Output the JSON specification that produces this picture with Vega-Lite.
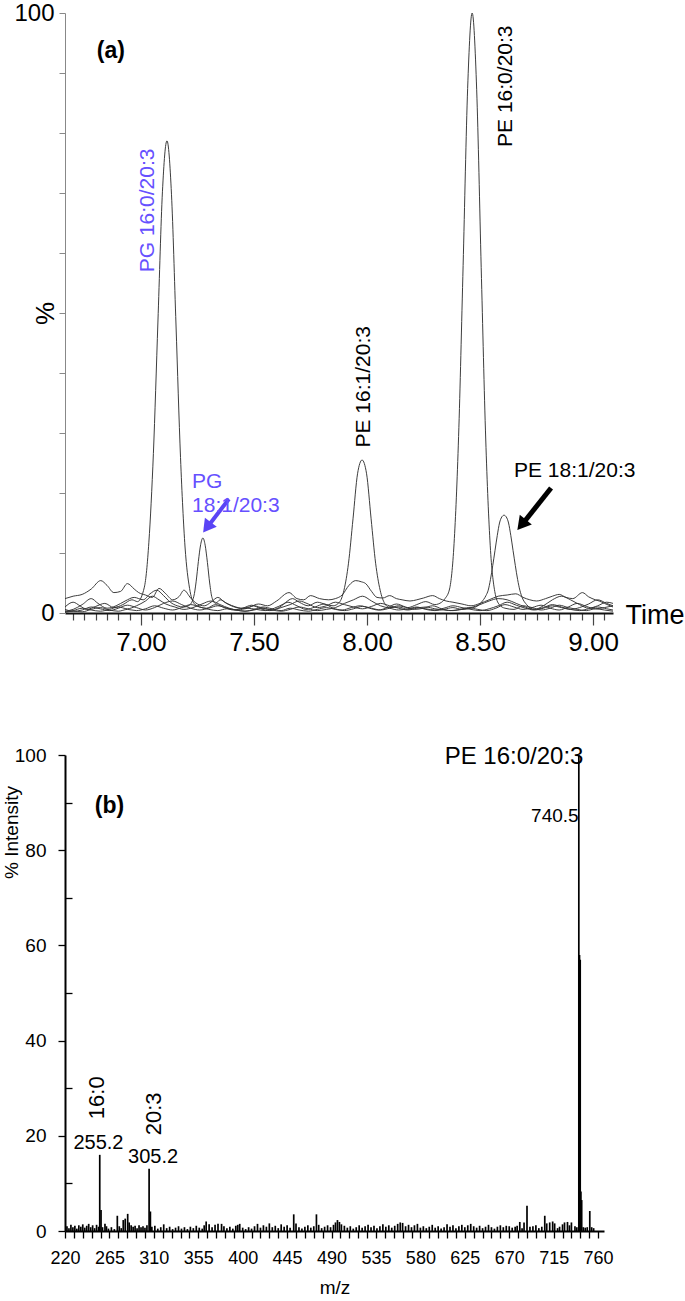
{
"$schema": "https://vega.github.io/schema/vega-lite/v6.json",
"padding": {"left": 2, "top": 1, "right": 0, "bottom": 0},
"config": {"view": {"stroke": null}, "font": "Liberation Sans", "axis": {"grid": false, "labelColor": "#000", "titleColor": "#000", "labelFont": "Liberation Sans", "titleFont": "Liberation Sans", "titleFontWeight": "normal"}},
"datasets": {
"traces": [
{"s":"A","t":6.664,"v":1.0},{"s":"A","t":6.70,"v":1.8},{"s":"A","t":6.73,"v":1.2},{"s":"A","t":6.76,"v":0.6},{"s":"A","t":6.80,"v":1.1},{"s":"A","t":6.84,"v":1.6},{"s":"A","t":6.88,"v":0.9},{"s":"A","t":6.92,"v":1.4},{"s":"A","t":6.96,"v":2.2},{"s":"A","t":6.985,"v":1.9},{"s":"A","t":7.015,"v":4.3},{"s":"A","t":7.035,"v":11.8},{"s":"A","t":7.055,"v":26.6},{"s":"A","t":7.075,"v":48.5},{"s":"A","t":7.095,"v":70.2},{"s":"A","t":7.115,"v":78.7},{"s":"A","t":7.135,"v":69.8},{"s":"A","t":7.155,"v":48.0},{"s":"A","t":7.175,"v":25.9},{"s":"A","t":7.195,"v":11.0},{"s":"A","t":7.215,"v":4.1},{"s":"A","t":7.235,"v":1.6},{"s":"A","t":7.26,"v":1.0},{"s":"A","t":7.29,"v":0.8},{"s":"A","t":7.33,"v":1.4},{"s":"A","t":7.37,"v":0.9},{"s":"A","t":7.41,"v":0.5},{"s":"A","t":7.45,"v":0.8},{"s":"A","t":7.49,"v":1.3},{"s":"A","t":7.53,"v":0.7},{"s":"A","t":7.57,"v":0.4},{"s":"A","t":7.61,"v":0.9},{"s":"A","t":7.65,"v":1.8},{"s":"A","t":7.69,"v":1.2},{"s":"A","t":7.73,"v":0.6},{"s":"A","t":7.77,"v":1.0},{"s":"A","t":7.81,"v":1.5},{"s":"A","t":7.85,"v":0.8},{"s":"A","t":7.89,"v":0.5},{"s":"A","t":7.93,"v":0.9},{"s":"A","t":7.97,"v":1.2},{"s":"A","t":8.01,"v":0.8},{"s":"A","t":8.05,"v":0.5},{"s":"A","t":8.09,"v":0.9},{"s":"A","t":8.13,"v":1.5},{"s":"A","t":8.17,"v":1.0},{"s":"A","t":8.21,"v":0.6},{"s":"A","t":8.25,"v":0.8},{"s":"A","t":8.29,"v":1.2},{"s":"A","t":8.33,"v":0.7},{"s":"A","t":8.37,"v":0.4},{"s":"A","t":8.41,"v":0.6},{"s":"A","t":8.45,"v":0.9},{"s":"A","t":8.49,"v":0.6},{"s":"A","t":8.53,"v":0.4},{"s":"A","t":8.57,"v":0.8},{"s":"A","t":8.61,"v":1.4},{"s":"A","t":8.65,"v":1.0},{"s":"A","t":8.69,"v":0.6},{"s":"A","t":8.73,"v":0.9},{"s":"A","t":8.77,"v":1.3},{"s":"A","t":8.81,"v":0.8},{"s":"A","t":8.85,"v":0.5},{"s":"A","t":8.89,"v":1.0},{"s":"A","t":8.93,"v":1.6},{"s":"A","t":8.97,"v":1.1},{"s":"A","t":9.01,"v":0.7},{"s":"A","t":9.05,"v":0.9},{"s":"A","t":9.088,"v":1.2},
{"s":"B","t":6.664,"v":0.3},{"s":"B","t":6.70,"v":0.6},{"s":"B","t":6.74,"v":1.4},{"s":"B","t":6.78,"v":2.4},{"s":"B","t":6.81,"v":1.6},{"s":"B","t":6.85,"v":0.8},{"s":"B","t":6.89,"v":1.2},{"s":"B","t":6.93,"v":2.0},{"s":"B","t":6.97,"v":2.6},{"s":"B","t":7.01,"v":2.2},{"s":"B","t":7.04,"v":3.2},{"s":"B","t":7.07,"v":3.8},{"s":"B","t":7.10,"v":2.9},{"s":"B","t":7.13,"v":1.8},{"s":"B","t":7.16,"v":1.2},{"s":"B","t":7.19,"v":1.0},{"s":"B","t":7.214,"v":1.3},{"s":"B","t":7.234,"v":2.8},{"s":"B","t":7.244,"v":5.2},{"s":"B","t":7.254,"v":8.6},{"s":"B","t":7.264,"v":11.4},{"s":"B","t":7.274,"v":12.5},{"s":"B","t":7.284,"v":11.3},{"s":"B","t":7.294,"v":8.4},{"s":"B","t":7.304,"v":5.0},{"s":"B","t":7.314,"v":2.6},{"s":"B","t":7.33,"v":1.6},{"s":"B","t":7.35,"v":2.2},{"s":"B","t":7.38,"v":1.6},{"s":"B","t":7.42,"v":1.0},{"s":"B","t":7.46,"v":0.7},{"s":"B","t":7.50,"v":1.2},{"s":"B","t":7.54,"v":0.8},{"s":"B","t":7.58,"v":0.5},{"s":"B","t":7.62,"v":0.9},{"s":"B","t":7.66,"v":1.4},{"s":"B","t":7.70,"v":2.0},{"s":"B","t":7.74,"v":1.5},{"s":"B","t":7.78,"v":0.9},{"s":"B","t":7.82,"v":1.2},{"s":"B","t":7.86,"v":1.8},{"s":"B","t":7.90,"v":1.4},{"s":"B","t":7.94,"v":1.0},{"s":"B","t":7.98,"v":0.7},{"s":"B","t":8.02,"v":1.1},{"s":"B","t":8.06,"v":1.6},{"s":"B","t":8.10,"v":1.2},{"s":"B","t":8.14,"v":0.8},{"s":"B","t":8.18,"v":0.5},{"s":"B","t":8.22,"v":0.8},{"s":"B","t":8.26,"v":1.0},{"s":"B","t":8.30,"v":0.7},{"s":"B","t":8.34,"v":0.5},{"s":"B","t":8.38,"v":0.4},{"s":"B","t":8.42,"v":0.6},{"s":"B","t":8.46,"v":0.9},{"s":"B","t":8.50,"v":1.4},{"s":"B","t":8.54,"v":2.0},{"s":"B","t":8.58,"v":2.4},{"s":"B","t":8.62,"v":2.2},{"s":"B","t":8.66,"v":1.6},{"s":"B","t":8.70,"v":1.0},{"s":"B","t":8.74,"v":0.6},{"s":"B","t":8.78,"v":1.2},{"s":"B","t":8.82,"v":2.2},{"s":"B","t":8.86,"v":2.8},{"s":"B","t":8.90,"v":2.2},{"s":"B","t":8.94,"v":1.4},{"s":"B","t":8.98,"v":0.8},{"s":"B","t":9.02,"v":1.2},{"s":"B","t":9.06,"v":1.8},{"s":"B","t":9.088,"v":1.6},
{"s":"C","t":6.664,"v":0.2},{"s":"C","t":6.70,"v":0.4},{"s":"C","t":6.74,"v":0.8},{"s":"C","t":6.78,"v":0.5},{"s":"C","t":6.82,"v":0.3},{"s":"C","t":6.86,"v":0.6},{"s":"C","t":6.90,"v":1.0},{"s":"C","t":6.94,"v":0.7},{"s":"C","t":6.98,"v":1.2},{"s":"C","t":7.02,"v":2.0},{"s":"C","t":7.05,"v":2.8},{"s":"C","t":7.08,"v":2.2},{"s":"C","t":7.11,"v":1.5},{"s":"C","t":7.15,"v":1.0},{"s":"C","t":7.19,"v":0.6},{"s":"C","t":7.23,"v":0.9},{"s":"C","t":7.27,"v":1.5},{"s":"C","t":7.31,"v":2.0},{"s":"C","t":7.35,"v":1.4},{"s":"C","t":7.39,"v":0.8},{"s":"C","t":7.43,"v":0.5},{"s":"C","t":7.47,"v":0.8},{"s":"C","t":7.51,"v":0.6},{"s":"C","t":7.55,"v":0.4},{"s":"C","t":7.59,"v":0.8},{"s":"C","t":7.63,"v":1.5},{"s":"C","t":7.67,"v":2.4},{"s":"C","t":7.70,"v":1.8},{"s":"C","t":7.74,"v":1.2},{"s":"C","t":7.78,"v":1.8},{"s":"C","t":7.82,"v":1.4},{"s":"C","t":7.85,"v":1.2},{"s":"C","t":7.878,"v":1.8},{"s":"C","t":7.898,"v":3.8},{"s":"C","t":7.918,"v":8.3},{"s":"C","t":7.938,"v":15.7},{"s":"C","t":7.958,"v":23.2},{"s":"C","t":7.978,"v":25.5},{"s":"C","t":7.998,"v":23.2},{"s":"C","t":8.018,"v":15.7},{"s":"C","t":8.038,"v":8.3},{"s":"C","t":8.058,"v":3.8},{"s":"C","t":8.078,"v":1.6},{"s":"C","t":8.10,"v":0.9},{"s":"C","t":8.14,"v":1.0},{"s":"C","t":8.18,"v":0.6},{"s":"C","t":8.22,"v":0.9},{"s":"C","t":8.26,"v":0.7},{"s":"C","t":8.30,"v":0.5},{"s":"C","t":8.34,"v":0.8},{"s":"C","t":8.38,"v":1.2},{"s":"C","t":8.42,"v":0.9},{"s":"C","t":8.46,"v":0.6},{"s":"C","t":8.50,"v":0.4},{"s":"C","t":8.54,"v":0.7},{"s":"C","t":8.58,"v":1.2},{"s":"C","t":8.62,"v":1.8},{"s":"C","t":8.66,"v":1.3},{"s":"C","t":8.70,"v":0.8},{"s":"C","t":8.74,"v":0.5},{"s":"C","t":8.78,"v":0.8},{"s":"C","t":8.82,"v":1.2},{"s":"C","t":8.86,"v":0.9},{"s":"C","t":8.90,"v":0.6},{"s":"C","t":8.94,"v":0.9},{"s":"C","t":8.98,"v":1.5},{"s":"C","t":9.02,"v":2.2},{"s":"C","t":9.06,"v":1.6},{"s":"C","t":9.088,"v":1.2},
{"s":"D","t":6.664,"v":0.1},{"s":"D","t":6.70,"v":0.3},{"s":"D","t":6.74,"v":0.2},{"s":"D","t":6.78,"v":0.6},{"s":"D","t":6.82,"v":0.9},{"s":"D","t":6.86,"v":0.5},{"s":"D","t":6.90,"v":0.3},{"s":"D","t":6.94,"v":0.6},{"s":"D","t":6.98,"v":0.4},{"s":"D","t":7.02,"v":0.7},{"s":"D","t":7.06,"v":1.2},{"s":"D","t":7.10,"v":0.8},{"s":"D","t":7.14,"v":0.5},{"s":"D","t":7.18,"v":0.9},{"s":"D","t":7.22,"v":1.4},{"s":"D","t":7.26,"v":1.0},{"s":"D","t":7.30,"v":0.6},{"s":"D","t":7.34,"v":0.4},{"s":"D","t":7.38,"v":0.7},{"s":"D","t":7.42,"v":0.5},{"s":"D","t":7.46,"v":0.3},{"s":"D","t":7.50,"v":0.6},{"s":"D","t":7.54,"v":1.0},{"s":"D","t":7.58,"v":0.7},{"s":"D","t":7.62,"v":0.4},{"s":"D","t":7.66,"v":0.8},{"s":"D","t":7.70,"v":0.5},{"s":"D","t":7.74,"v":0.3},{"s":"D","t":7.78,"v":0.6},{"s":"D","t":7.82,"v":0.9},{"s":"D","t":7.86,"v":0.6},{"s":"D","t":7.90,"v":0.4},{"s":"D","t":7.94,"v":0.7},{"s":"D","t":7.98,"v":1.1},{"s":"D","t":8.02,"v":0.8},{"s":"D","t":8.06,"v":0.5},{"s":"D","t":8.10,"v":0.8},{"s":"D","t":8.14,"v":1.2},{"s":"D","t":8.18,"v":0.9},{"s":"D","t":8.22,"v":1.4},{"s":"D","t":8.26,"v":1.9},{"s":"D","t":8.30,"v":1.4},{"s":"D","t":8.33,"v":1.8},{"s":"D","t":8.345,"v":2.4},{"s":"D","t":8.365,"v":4.0},{"s":"D","t":8.385,"v":11.6},{"s":"D","t":8.405,"v":29.4},{"s":"D","t":8.425,"v":57.9},{"s":"D","t":8.445,"v":87.4},{"s":"D","t":8.465,"v":100},{"s":"D","t":8.485,"v":87.2},{"s":"D","t":8.505,"v":57.6},{"s":"D","t":8.525,"v":29.0},{"s":"D","t":8.545,"v":11.2},{"s":"D","t":8.565,"v":3.6},{"s":"D","t":8.585,"v":1.4},{"s":"D","t":8.61,"v":0.8},{"s":"D","t":8.65,"v":0.6},{"s":"D","t":8.69,"v":1.2},{"s":"D","t":8.73,"v":0.9},{"s":"D","t":8.77,"v":0.5},{"s":"D","t":8.81,"v":0.8},{"s":"D","t":8.85,"v":1.3},{"s":"D","t":8.89,"v":0.9},{"s":"D","t":8.93,"v":0.6},{"s":"D","t":8.97,"v":0.4},{"s":"D","t":9.01,"v":0.7},{"s":"D","t":9.05,"v":0.5},{"s":"D","t":9.088,"v":0.3},
{"s":"E","t":6.664,"v":0.6},{"s":"E","t":6.70,"v":0.3},{"s":"E","t":6.74,"v":0.5},{"s":"E","t":6.78,"v":1.0},{"s":"E","t":6.82,"v":0.7},{"s":"E","t":6.86,"v":0.4},{"s":"E","t":6.90,"v":0.8},{"s":"E","t":6.94,"v":1.3},{"s":"E","t":6.98,"v":0.9},{"s":"E","t":7.02,"v":0.5},{"s":"E","t":7.06,"v":0.9},{"s":"E","t":7.10,"v":1.6},{"s":"E","t":7.14,"v":2.0},{"s":"E","t":7.18,"v":1.4},{"s":"E","t":7.22,"v":0.8},{"s":"E","t":7.26,"v":0.5},{"s":"E","t":7.30,"v":0.8},{"s":"E","t":7.34,"v":1.2},{"s":"E","t":7.38,"v":0.8},{"s":"E","t":7.42,"v":0.5},{"s":"E","t":7.46,"v":0.3},{"s":"E","t":7.50,"v":0.5},{"s":"E","t":7.54,"v":0.8},{"s":"E","t":7.58,"v":0.5},{"s":"E","t":7.62,"v":0.3},{"s":"E","t":7.66,"v":0.6},{"s":"E","t":7.70,"v":1.0},{"s":"E","t":7.74,"v":0.7},{"s":"E","t":7.78,"v":0.4},{"s":"E","t":7.82,"v":0.6},{"s":"E","t":7.86,"v":0.9},{"s":"E","t":7.90,"v":1.6},{"s":"E","t":7.94,"v":2.2},{"s":"E","t":7.98,"v":2.8},{"s":"E","t":8.02,"v":2.0},{"s":"E","t":8.06,"v":1.2},{"s":"E","t":8.10,"v":0.8},{"s":"E","t":8.14,"v":0.5},{"s":"E","t":8.18,"v":0.7},{"s":"E","t":8.22,"v":1.0},{"s":"E","t":8.26,"v":0.6},{"s":"E","t":8.30,"v":0.4},{"s":"E","t":8.34,"v":0.6},{"s":"E","t":8.38,"v":0.9},{"s":"E","t":8.42,"v":0.6},{"s":"E","t":8.46,"v":0.8},{"s":"E","t":8.49,"v":1.2},{"s":"E","t":8.506,"v":1.8},{"s":"E","t":8.526,"v":2.9},{"s":"E","t":8.536,"v":3.8},{"s":"E","t":8.546,"v":5.6},{"s":"E","t":8.556,"v":7.9},{"s":"E","t":8.566,"v":10.4},{"s":"E","t":8.576,"v":12.9},{"s":"E","t":8.586,"v":15.0},{"s":"E","t":8.596,"v":16.0},{"s":"E","t":8.606,"v":16.3},{"s":"E","t":8.616,"v":16.0},{"s":"E","t":8.626,"v":15.0},{"s":"E","t":8.636,"v":12.9},{"s":"E","t":8.646,"v":10.4},{"s":"E","t":8.656,"v":7.9},{"s":"E","t":8.666,"v":5.6},{"s":"E","t":8.676,"v":3.8},{"s":"E","t":8.686,"v":2.6},{"s":"E","t":8.706,"v":1.4},{"s":"E","t":8.74,"v":0.6},{"s":"E","t":8.78,"v":0.9},{"s":"E","t":8.82,"v":1.4},{"s":"E","t":8.86,"v":1.0},{"s":"E","t":8.90,"v":0.6},{"s":"E","t":8.94,"v":0.4},{"s":"E","t":8.98,"v":0.7},{"s":"E","t":9.02,"v":1.0},{"s":"E","t":9.06,"v":0.7},{"s":"E","t":9.088,"v":0.5},
{"s":"F","t":6.664,"v":2.4},{"s":"F","t":6.70,"v":2.8},{"s":"F","t":6.74,"v":3.1},{"s":"F","t":6.78,"v":4.0},{"s":"F","t":6.822,"v":5.4},{"s":"F","t":6.85,"v":4.6},{"s":"F","t":6.88,"v":3.4},{"s":"F","t":6.91,"v":3.6},{"s":"F","t":6.94,"v":4.9},{"s":"F","t":6.97,"v":4.0},{"s":"F","t":6.99,"v":3.4},{"s":"F","t":7.02,"v":3.0},{"s":"F","t":7.05,"v":2.6},{"s":"F","t":7.08,"v":4.1},{"s":"F","t":7.11,"v":3.2},{"s":"F","t":7.14,"v":2.2},{"s":"F","t":7.17,"v":2.8},{"s":"F","t":7.19,"v":3.8},{"s":"F","t":7.22,"v":2.5},{"s":"F","t":7.25,"v":1.5},{"s":"F","t":7.28,"v":1.2},{"s":"F","t":7.31,"v":1.8},{"s":"F","t":7.34,"v":2.6},{"s":"F","t":7.37,"v":1.8},{"s":"F","t":7.40,"v":1.2},{"s":"F","t":7.44,"v":0.8},{"s":"F","t":7.48,"v":1.0},{"s":"F","t":7.52,"v":1.5},{"s":"F","t":7.56,"v":1.2},{"s":"F","t":7.60,"v":2.0},{"s":"F","t":7.655,"v":3.4},{"s":"F","t":7.69,"v":2.4},{"s":"F","t":7.72,"v":2.2},{"s":"F","t":7.75,"v":2.9},{"s":"F","t":7.79,"v":2.4},{"s":"F","t":7.83,"v":2.2},{"s":"F","t":7.86,"v":2.4},{"s":"F","t":7.89,"v":3.0},{"s":"F","t":7.92,"v":4.6},{"s":"F","t":7.95,"v":5.4},{"s":"F","t":7.975,"v":5.2},{"s":"F","t":7.994,"v":4.9},{"s":"F","t":8.02,"v":3.6},{"s":"F","t":8.044,"v":2.6},{"s":"F","t":8.07,"v":2.5},{"s":"F","t":8.10,"v":2.9},{"s":"F","t":8.13,"v":2.4},{"s":"F","t":8.155,"v":2.2},{"s":"F","t":8.19,"v":2.0},{"s":"F","t":8.22,"v":2.2},{"s":"F","t":8.25,"v":2.5},{"s":"F","t":8.29,"v":2.9},{"s":"F","t":8.32,"v":2.4},{"s":"F","t":8.35,"v":2.0},{"s":"F","t":8.38,"v":1.8},{"s":"F","t":8.42,"v":1.5},{"s":"F","t":8.46,"v":1.2},{"s":"F","t":8.50,"v":1.6},{"s":"F","t":8.54,"v":2.2},{"s":"F","t":8.58,"v":2.8},{"s":"F","t":8.62,"v":3.0},{"s":"F","t":8.658,"v":3.2},{"s":"F","t":8.69,"v":2.6},{"s":"F","t":8.72,"v":2.2},{"s":"F","t":8.75,"v":2.0},{"s":"F","t":8.79,"v":2.4},{"s":"F","t":8.82,"v":2.8},{"s":"F","t":8.85,"v":3.1},{"s":"F","t":8.88,"v":2.6},{"s":"F","t":8.91,"v":2.4},{"s":"F","t":8.953,"v":3.4},{"s":"F","t":8.98,"v":2.7},{"s":"F","t":9.01,"v":2.2},{"s":"F","t":9.027,"v":2.0},{"s":"F","t":9.05,"v":1.6},{"s":"F","t":9.088,"v":1.0}
],
"spec": [
{"mz":222,"i":1.0},{"mz":224,"i":0.6},{"mz":226,"i":1.3},{"mz":228,"i":0.8},{"mz":230,"i":1.1},{"mz":232,"i":0.5},{"mz":234,"i":1.2},{"mz":236,"i":0.9},{"mz":238,"i":1.4},{"mz":240,"i":0.7},{"mz":242,"i":1.1},{"mz":244,"i":1.5},{"mz":246,"i":0.8},{"mz":248,"i":1.2},{"mz":250,"i":0.6},{"mz":252,"i":1.3},{"mz":254,"i":0.9},{"mz":255.2,"i":16.0},{"mz":256.5,"i":4.4},{"mz":258,"i":0.8},{"mz":260.5,"i":1.5},{"mz":262,"i":1.0},{"mz":264,"i":0.5},{"mz":267,"i":0.8},{"mz":270,"i":0.4},{"mz":273,"i":3.2},{"mz":275,"i":1.0},{"mz":277,"i":0.6},{"mz":279,"i":2.3},{"mz":281,"i":2.6},{"mz":283.5,"i":3.6},{"mz":285,"i":1.8},{"mz":287,"i":1.2},{"mz":289,"i":0.9},{"mz":291,"i":1.1},{"mz":293,"i":0.6},{"mz":295,"i":1.2},{"mz":297,"i":0.8},{"mz":299,"i":1.0},{"mz":301,"i":0.7},{"mz":303,"i":1.2},{"mz":305.2,"i":13.1},{"mz":306.5,"i":4.1},{"mz":308,"i":0.9},{"mz":311,"i":1.1},{"mz":314,"i":0.5},{"mz":317,"i":0.8},{"mz":320,"i":1.4},{"mz":323,"i":0.6},{"mz":326,"i":0.9},{"mz":329,"i":0.4},{"mz":332,"i":0.7},{"mz":335,"i":1.0},{"mz":338,"i":0.5},{"mz":341,"i":0.8},{"mz":344,"i":0.4},{"mz":347,"i":0.9},{"mz":350,"i":0.6},{"mz":353,"i":1.1},{"mz":356,"i":0.7},{"mz":359,"i":0.5},{"mz":361,"i":1.2},{"mz":363,"i":2.0},{"mz":366,"i":1.4},{"mz":369,"i":0.8},{"mz":372,"i":1.3},{"mz":375,"i":1.5},{"mz":378.6,"i":1.5},{"mz":381,"i":1.0},{"mz":384,"i":0.6},{"mz":387,"i":0.9},{"mz":390,"i":0.5},{"mz":393,"i":1.1},{"mz":395,"i":1.3},{"mz":397,"i":1.5},{"mz":400,"i":0.7},{"mz":403,"i":0.4},{"mz":406,"i":0.8},{"mz":409,"i":0.5},{"mz":412,"i":1.0},{"mz":415,"i":1.5},{"mz":418,"i":0.7},{"mz":421,"i":1.2},{"mz":424,"i":0.9},{"mz":427,"i":1.6},{"mz":430,"i":0.8},{"mz":433,"i":1.1},{"mz":436,"i":0.6},{"mz":439,"i":1.4},{"mz":442,"i":0.9},{"mz":445,"i":1.2},{"mz":448,"i":0.7},{"mz":451.7,"i":3.5},{"mz":454,"i":1.6},{"mz":457,"i":0.8},{"mz":460,"i":0.5},{"mz":463,"i":0.9},{"mz":466,"i":1.2},{"mz":469,"i":0.7},{"mz":472,"i":1.0},{"mz":474.7,"i":3.5},{"mz":477,"i":1.3},{"mz":480,"i":0.6},{"mz":483,"i":0.9},{"mz":486,"i":1.2},{"mz":489,"i":0.8},{"mz":492,"i":1.3},{"mz":494,"i":1.8},{"mz":496,"i":2.3},{"mz":498,"i":1.9},{"mz":500,"i":1.4},{"mz":503,"i":1.1},{"mz":506,"i":0.7},{"mz":509,"i":1.0},{"mz":512,"i":0.5},{"mz":515,"i":0.8},{"mz":518,"i":1.2},{"mz":521,"i":0.7},{"mz":524,"i":1.0},{"mz":527,"i":1.3},{"mz":530,"i":0.8},{"mz":533,"i":1.1},{"mz":536,"i":0.6},{"mz":539,"i":1.0},{"mz":542,"i":1.4},{"mz":545,"i":0.9},{"mz":548,"i":1.2},{"mz":551,"i":0.7},{"mz":554,"i":1.1},{"mz":557,"i":1.5},{"mz":559.6,"i":1.8},{"mz":562,"i":1.7},{"mz":565,"i":1.0},{"mz":568,"i":1.3},{"mz":571,"i":0.8},{"mz":574,"i":1.2},{"mz":577,"i":1.5},{"mz":580,"i":0.7},{"mz":583,"i":1.0},{"mz":586,"i":0.6},{"mz":589,"i":0.9},{"mz":592,"i":1.3},{"mz":595,"i":0.7},{"mz":598,"i":1.0},{"mz":601,"i":0.5},{"mz":604,"i":0.8},{"mz":607,"i":1.4},{"mz":610,"i":0.9},{"mz":613,"i":1.2},{"mz":616,"i":0.6},{"mz":619,"i":1.0},{"mz":622,"i":1.3},{"mz":625,"i":0.8},{"mz":628,"i":1.2},{"mz":631,"i":1.5},{"mz":634,"i":1.0},{"mz":637,"i":0.7},{"mz":640,"i":1.1},{"mz":643,"i":0.6},{"mz":646,"i":0.9},{"mz":649,"i":1.3},{"mz":652,"i":0.8},{"mz":655,"i":0.5},{"mz":658,"i":0.9},{"mz":661,"i":1.2},{"mz":664,"i":0.8},{"mz":667,"i":1.1},{"mz":670,"i":1.0},{"mz":673,"i":0.7},{"mz":676,"i":0.9},{"mz":678,"i":1.1},{"mz":680.7,"i":1.9},{"mz":683,"i":0.6},{"mz":685,"i":1.8},{"mz":688,"i":5.3},{"mz":691,"i":0.9},{"mz":694,"i":1.0},{"mz":697,"i":1.2},{"mz":700,"i":0.6},{"mz":703,"i":0.9},{"mz":706,"i":3.2},{"mz":708,"i":1.6},{"mz":711,"i":1.8},{"mz":714,"i":2.0},{"mz":716,"i":1.6},{"mz":719,"i":0.6},{"mz":721,"i":0.9},{"mz":724,"i":1.4},{"mz":726,"i":1.8},{"mz":729,"i":1.9},{"mz":731,"i":1.2},{"mz":733,"i":1.8},{"mz":736.6,"i":1.0},{"mz":738.5,"i":0.8},{"mz":740.5,"i":100},{"mz":741.2,"i":58},{"mz":741.9,"i":57},{"mz":742.6,"i":8.3},{"mz":743.4,"i":6.5},{"mz":745,"i":0.8},{"mz":747,"i":0.7},{"mz":749,"i":0.8},{"mz":751.6,"i":4.2},{"mz":753.5,"i":0.8},{"mz":755.5,"i":0.6}
]
},
"spacing": 89,
"vconcat": [
{
"width": 548, "height": 600,
"resolve": {"axis": {"x": "independent", "y": "independent"}},
"layer": [
{"data": {"name": "traces"},
 "mark": {"type": "line", "interpolate": "monotone", "stroke": "#333", "strokeWidth": 0.95},
 "encoding": {
  "x": {"field": "t", "type": "quantitative", "scale": {"domain": [6.664, 9.088], "nice": false, "zero": false},
   "axis": {"orient": "bottom", "values": [6.7,6.75,6.8,6.85,6.9,6.95,7,7.05,7.1,7.15,7.2,7.25,7.3,7.35,7.4,7.45,7.5,7.55,7.6,7.65,7.7,7.75,7.8,7.85,7.9,7.95,8,8.05,8.1,8.15,8.2,8.25,8.3,8.35,8.4,8.45,8.5,8.55,8.6,8.65,8.7,8.75,8.8,8.85,8.9,8.95,9,9.05],
    "labelExpr": "abs(datum.value * 2 - round(datum.value * 2)) < 0.001 ? format(datum.value, '.2f') : ''",
    "tickSize": {"condition": {"test": "abs(datum.value * 2 - round(datum.value * 2)) < 0.001", "value": 12}, "value": 7},
    "ticks": true, "tickColor": "#444", "tickWidth": 1.2, "tickOpacity": 1, "domainColor": "#111", "domainWidth": 2, "labelFontSize": 26, "labelPadding": 4, "labelFlush": false, "labelOverlap": false, "labelBound": false,
    "title": "Time", "titleFontSize": 27, "titleX": 560, "titleY": 2, "titleAlign": "left", "titleBaseline": "middle", "titleAngle": 0}},
  "y": {"field": "v", "type": "quantitative", "scale": {"domain": [0, 100], "nice": false},
   "axis": {"orient": "left", "values": [0, 10, 20, 30, 40, 50, 60, 70, 80, 90, 100], "labelExpr": "datum.value == 0 || datum.value == 100 ? datum.label : ''", "tickSize": 6, "tickColor": "#888", "domainColor": "#888", "domainWidth": 1, "labelFontSize": 24, "labelPadding": 5, "labelOverlap": false, "labelFlush": false, "title": "%", "titleFontSize": 26, "titleX": -20, "titleY": 300, "titleAngle": 270, "titleAlign": "center", "titleBaseline": "middle"}},
  "detail": {"field": "s"}
 }},
{"data": {"values": [{"t": 7.389, "v": 19.0, "t2": 7.301, "v2": 14.67}]},
 "mark": {"type": "rule", "color": "#5a44f5", "strokeWidth": 4},
 "encoding": {"x": {"field": "t", "type": "quantitative", "axis": null}, "y": {"field": "v", "type": "quantitative", "axis": null}, "x2": {"field": "t2"}, "y2": {"field": "v2"}}},
{"data": {"values": [{"t": 7.292, "v": 14.27}]},
 "mark": {"type": "point", "shape": "triangle-up", "filled": true, "color": "#5a44f5", "size": 220, "angle": 217, "opacity": 1},
 "encoding": {"x": {"field": "t", "type": "quantitative", "axis": null}, "y": {"field": "v", "type": "quantitative", "axis": null}}},
{"data": {"values": [{"t": 8.814, "v": 20.83, "t2": 8.6947, "v2": 15.17}]},
 "mark": {"type": "rule", "color": "#000", "strokeWidth": 5},
 "encoding": {"x": {"field": "t", "type": "quantitative", "axis": null}, "y": {"field": "v", "type": "quantitative", "axis": null}, "x2": {"field": "t2"}, "y2": {"field": "v2"}}},
{"data": {"values": [{"t": 8.6836, "v": 14.7}]},
 "mark": {"type": "point", "shape": "triangle-up", "filled": true, "color": "#000", "size": 240, "angle": 219, "opacity": 1},
 "encoding": {"x": {"field": "t", "type": "quantitative", "axis": null}, "y": {"field": "v", "type": "quantitative", "axis": null}}},
{"data": {"values": [{"label": "(a)", "t": 6.867, "v": 93.7}]},
 "mark": {"type": "text", "fontSize": 23, "fontWeight": "bold", "color": "#000", "align": "center", "baseline": "middle"},
 "encoding": {"x": {"field": "t", "type": "quantitative", "axis": null}, "y": {"field": "v", "type": "quantitative", "axis": null}, "text": {"field": "label"}}},
{"data": {"values": [{"label": "PE 16:0/20:3", "t": 8.613, "v": 87.8}, {"label": "PE 16:1/20:3", "t": 7.987, "v": 37.7}]},
 "mark": {"type": "text", "fontSize": 21, "angle": 270, "color": "#000", "align": "center", "baseline": "middle"},
 "encoding": {"x": {"field": "t", "type": "quantitative", "axis": null}, "y": {"field": "v", "type": "quantitative", "axis": null}, "text": {"field": "label"}}},
{"data": {"values": [{"label": "PG 16:0/20:3", "t": 7.031, "v": 67.1}]},
 "mark": {"type": "text", "fontSize": 21, "angle": 270, "color": "#6650ff", "align": "center", "baseline": "middle"},
 "encoding": {"x": {"field": "t", "type": "quantitative", "axis": null}, "y": {"field": "v", "type": "quantitative", "axis": null}, "text": {"field": "label"}}},
{"data": {"values": [{"label": "PG", "t": 7.226, "v": 21.8}, {"label": "18:1/20:3", "t": 7.226, "v": 17.9}]},
 "mark": {"type": "text", "fontSize": 21, "color": "#6650ff", "align": "left", "baseline": "middle"},
 "encoding": {"x": {"field": "t", "type": "quantitative", "axis": null}, "y": {"field": "v", "type": "quantitative", "axis": null}, "text": {"field": "label"}}},
{"data": {"values": [{"label": "PE 18:1/20:3", "t": 8.650, "v": 23.7}]},
 "mark": {"type": "text", "fontSize": 21, "color": "#000", "align": "left", "baseline": "middle"},
 "encoding": {"x": {"field": "t", "type": "quantitative", "axis": null}, "y": {"field": "v", "type": "quantitative", "axis": null}, "text": {"field": "label"}}}
]
},
{
"width": 539, "height": 476,
"resolve": {"axis": {"x": "independent", "y": "independent"}},
"layer": [
{"data": {"name": "spec"},
 "mark": {"type": "rule", "color": "#000", "strokeWidth": 1.7},
 "encoding": {
  "x": {"field": "mz", "type": "quantitative", "scale": {"domain": [220, 766], "nice": false, "zero": false},
   "axis": {"orient": "bottom", "values": [220,229,238,247,256,265,274,283,292,301,310,319,328,337,346,355,364,373,382,391,400,409,418,427,436,445,454,463,472,481,490,499,508,517,526,535,544,553,562,571,580,589,598,607,616,625,634,643,652,661,670,679,688,697,706,715,724,733,742,751,760], "labelExpr": "(datum.value - 220) % 45 == 0 ? datum.label : ''", "ticks": true, "tickSize": 7, "tickColor": "#000", "tickWidth": 1.3, "tickOpacity": 1, "domainColor": "#000", "domainWidth": 2, "labelFontSize": 18, "labelPadding": 11, "labelFlush": false, "labelOverlap": false, "title": "m/z", "titleFontSize": 19, "titlePadding": 11}},
  "y": {"field": "i", "type": "quantitative", "scale": {"domain": [0, 100], "nice": false},
   "axis": {"orient": "left", "values": [0, 10, 20, 30, 40, 50, 60, 70, 80, 90, 100],
    "labelExpr": "datum.value % 20 == 0 ? datum.label : ''",
    "tickSize": {"condition": {"test": "datum.value % 20 == 0", "value": 7}, "value": -7},
    "tickColor": "#000", "tickWidth": 1.3, "domainColor": "#000", "domainWidth": 2, "labelFontSize": 19, "labelPadding": 12, "labelOverlap": false, "labelFlush": false, "title": "% Intensity", "titleFontSize": 19, "titleX": -54, "titleY": 77, "titleAngle": 270, "titleAlign": "center", "titleBaseline": "middle"}},
  "y2": {"datum": 0}
 }},
{"data": {"values": [{"label": "(b)", "mz": 265, "i": 89.3}]},
 "mark": {"type": "text", "fontSize": 23, "fontWeight": "bold", "color": "#000", "align": "center", "baseline": "middle"},
 "encoding": {"x": {"field": "mz", "type": "quantitative", "axis": null}, "y": {"field": "i", "type": "quantitative", "axis": null}, "text": {"field": "label"}}},
{"data": {"values": [{"label": "PE 16:0/20:3", "mz": 674.9, "i": 99.6}]},
 "mark": {"type": "text", "fontSize": 24, "color": "#000", "align": "center", "baseline": "middle"},
 "encoding": {"x": {"field": "mz", "type": "quantitative", "axis": null}, "y": {"field": "i", "type": "quantitative", "axis": null}, "text": {"field": "label"}}},
{"data": {"values": [{"label": "740.5", "mz": 740.3, "i": 87.2}]},
 "mark": {"type": "text", "fontSize": 19, "color": "#000", "align": "right", "baseline": "middle"},
 "encoding": {"x": {"field": "mz", "type": "quantitative", "axis": null}, "y": {"field": "i", "type": "quantitative", "axis": null}, "text": {"field": "label"}}},
{"data": {"values": [{"label": "255.2", "mz": 253.9, "i": 18.4}, {"label": "305.2", "mz": 309.2, "i": 15.5}]},
 "mark": {"type": "text", "fontSize": 20, "color": "#000", "align": "center", "baseline": "middle"},
 "encoding": {"x": {"field": "mz", "type": "quantitative", "axis": null}, "y": {"field": "i", "type": "quantitative", "axis": null}, "text": {"field": "label"}}},
{"data": {"values": [{"label": "16:0", "mz": 252.9, "i": 28.0}, {"label": "20:3", "mz": 309.7, "i": 24.6}]},
 "mark": {"type": "text", "fontSize": 22, "angle": 270, "color": "#000", "align": "center", "baseline": "middle"},
 "encoding": {"x": {"field": "mz", "type": "quantitative", "axis": null}, "y": {"field": "i", "type": "quantitative", "axis": null}, "text": {"field": "label"}}}
]
}
]
}
